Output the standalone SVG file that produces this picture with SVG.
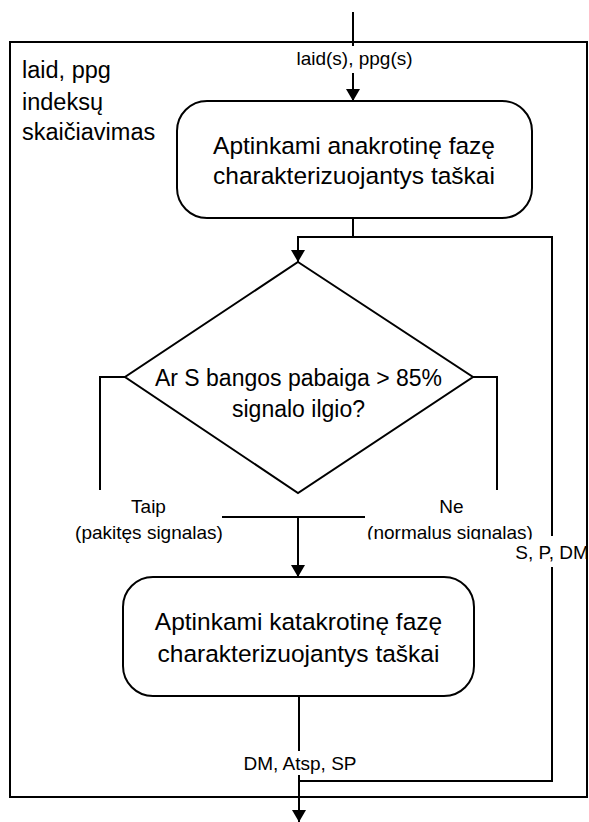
<svg xmlns="http://www.w3.org/2000/svg" width="589" height="822" viewBox="0 0 589 822">
  <style>
    .shape { fill: #ffffff; stroke: #000000; stroke-width: 2; }
    .wire { fill: none; stroke: #000000; stroke-width: 2; }
    .t { font-family: "Liberation Sans", Arial, sans-serif; fill: #000000; }
    .big { font-size: 24.5px; text-anchor: middle; }
    .dec { font-size: 23px; text-anchor: middle; }
    .lbl { font-size: 19px; text-anchor: middle; }
    .title { font-size: 23.5px; }
    .bg { fill: #ffffff; stroke: none; }
  </style>
  <defs>
    <marker id="arrow" viewBox="0 0 12 14" refX="12" refY="7" markerWidth="12" markerHeight="14" markerUnits="userSpaceOnUse" orient="auto">
      <path d="M0,0 L12,7 L0,14 Z" fill="#000000"/>
    </marker>
    <clipPath id="neClip">
      <rect x="340" y="490" width="210" height="49.5"/>
    </clipPath>
  </defs>

  <rect width="589" height="822" fill="#ffffff"/>

  <!-- enclosing process frame -->
  <g id="frame">
    <rect class="shape" x="10" y="42" width="577" height="755" fill="none"/>
    <text class="t title" x="22" y="78">laid, ppg</text>
    <text class="t title" x="22" y="110">indeksų</text>
    <text class="t title" x="22" y="140">skaičiavimas</text>
  </g>

  <!-- connectors -->
  <g id="connectors">
    <!-- input -->
    <line class="wire" x1="353" y1="12" x2="353" y2="101" marker-end="url(#arrow)"/>
    <!-- after first step: to decision and feedback loop -->
    <polyline class="wire" points="353,218 353,237 298,237 298,262" marker-end="url(#arrow)"/>
    <polyline class="wire" points="353,237 552,237 552,781 299,781"/>
    <!-- decision branches -->
    <polyline class="wire" points="125,377 100,377 100,490"/>
    <polyline class="wire" points="473,377 497,377 497,490"/>
    <line class="wire" x1="222" y1="517" x2="365" y2="517"/>
    <line class="wire" x1="298" y1="517" x2="298" y2="577" marker-end="url(#arrow)"/>
    <!-- output -->
    <line class="wire" x1="299" y1="696" x2="299" y2="822" marker-end="url(#arrow)"/>
  </g>

  <!-- connector labels -->
  <g id="labels">
    <rect class="bg" x="294" y="46" width="120" height="27"/>
    <text class="t lbl" x="354.5" y="65">laid(s), ppg(s)</text>

    <rect class="bg" x="519" y="536" width="65" height="31"/>
    <text class="t lbl" x="552" y="559">S, P, DM</text>

    <text class="t lbl" x="148.5" y="513">Taip</text>
    <text class="t lbl" x="149" y="539">(pakitęs signalas)</text>

    <g clip-path="url(#neClip)">
      <text class="t lbl" x="451.5" y="513">Ne</text>
      <text class="t lbl" x="450" y="539">(normalus signalas)</text>
    </g>

    <rect class="bg" x="243" y="751" width="116" height="24"/>
    <text class="t lbl" x="300" y="770">DM, Atsp, SP</text>
  </g>

  <!-- step: anacrotic phase points -->
  <g id="node-anakrot">
    <rect class="shape" x="177" y="101" width="355" height="117" rx="30" ry="30"/>
    <text class="t big" x="354" y="154">Aptinkami anakrotinę fazę</text>
    <text class="t big" x="354" y="184">charakterizuojantys taškai</text>
  </g>

  <!-- decision -->
  <g id="node-decision">
    <polygon class="shape" points="298,262 473,377 298,493 125,377"/>
    <text class="t dec" x="298.5" y="386">Ar S bangos pabaiga &gt; 85%</text>
    <text class="t dec" x="298.5" y="417">signalo ilgio?</text>
  </g>

  <!-- step: catacrotic phase points -->
  <g id="node-katakrot">
    <rect class="shape" x="123" y="577" width="351" height="119" rx="30" ry="30"/>
    <text class="t big" x="298.5" y="630">Aptinkami katakrotinę fazę</text>
    <text class="t big" x="298.5" y="662">charakterizuojantys taškai</text>
  </g>
</svg>
